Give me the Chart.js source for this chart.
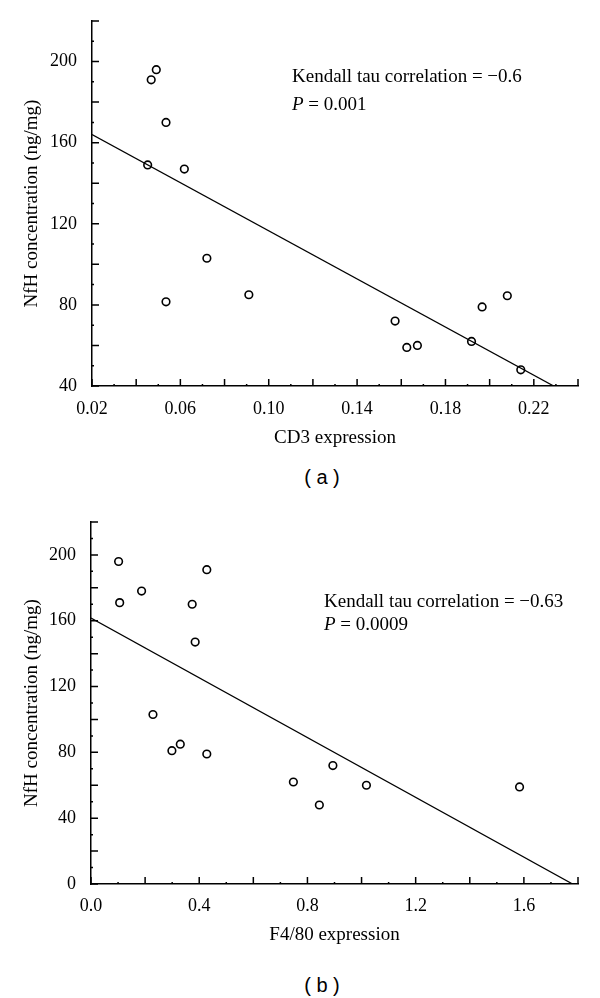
<!DOCTYPE html>
<html>
<head>
<meta charset="utf-8">
<title>NfH vs CD3 / F4/80</title>
<script src="https://cdn.jsdelivr.net/npm/chart.js@4.4.1/dist/chart.umd.min.js"></script>
<style>
    body { margin: 0; background: #fff; width: 600px; height: 998px; position: relative; overflow: hidden; }
    canvas { position: absolute; left: 0; }
    #chartA { top: 0; }
    #chartB { top: 490px; }
    .note { position: absolute; font-family: "Liberation Serif", "Times New Roman", serif; font-size: 19px; line-height: 20px; color: #000; white-space: nowrap; }
    .panel { position: absolute; width: 80px; text-align: center; font-family: "Liberation Sans", Arial, sans-serif; font-size: 20px; line-height: 20px; color: #000; }
</style>
</head>
<body>
<canvas id="chartA" width="600" height="460"></canvas>
<canvas id="chartB" width="600" height="470"></canvas>

<div class="note" style="left:292px; top:66px;">Kendall tau correlation = −0.6</div>
<div class="note" style="left:292px; top:94px;"><i>P</i> = 0.001</div>
<div class="panel" style="left:282px; top:467px;">( a )</div>

<div class="note" style="left:324px; top:591px;">Kendall tau correlation = −0.63</div>
<div class="note" style="left:324px; top:614px;"><i>P</i> = 0.0009</div>
<div class="panel" style="left:282px; top:975px;">( b )</div>

<script>
// panel (a): CD3 expression vs NfH
const cd3X = [0.0468, 0.0491, 0.0535, 0.0452, 0.0618, 0.0720, 0.0535, 0.0910, 0.1572, 0.1625, 0.1673, 0.1918, 0.1966, 0.2080, 0.2141];
const cd3NfH = [191, 196, 170, 149, 147, 103, 81.5, 85, 72, 59, 60, 62, 79, 84.5, 48];
const cd3FitX = [0.02, 0.229];
const cd3FitY = [164, 40];
const cd3TickLabels = [0.02, 0.06, 0.10, 0.14, 0.18, 0.22];
const nfhTickLabelsA = [40, 80, 120, 160, 200];

// panel (b): F4/80 expression vs NfH
const f480X = [0.102, 0.106, 0.187, 0.428, 0.374, 0.385, 0.229, 0.299, 0.330, 0.428, 0.748, 0.894, 0.844, 1.018, 1.584];
const f480NfH = [196, 171, 178, 191, 170, 147, 103, 81, 85, 79, 62, 72, 48, 60, 59];
const f480FitX = [0, 1.78];
const f480FitY = [161.6, 0];
const f480TickLabels = [0.0, 0.4, 0.8, 1.2, 1.6];
const nfhTickLabelsB = [0, 40, 80, 120, 160, 200];

const serif = '"Liberation Serif", "Times New Roman", serif';

// inward tick marks (major + small minor) drawn off the scales
const innerTicks = {
    id: 'innerTicks',
    afterDraw(chart, args, opts) {
        const ctx = chart.ctx;
        const xs = chart.scales.x;
        const ys = chart.scales.y;
        ctx.save();
        ctx.strokeStyle = '#000';
        ctx.lineWidth = 1.5;
        ctx.beginPath();
        for (let i = 0; xs.min + i * opts.xStep / 2 <= xs.max + 1e-9; i++) {
            const px = xs.getPixelForValue(xs.min + i * opts.xStep / 2);
            const len = i % 2 === 0 ? 7 : 2;
            ctx.moveTo(px, ys.bottom);
            ctx.lineTo(px, ys.bottom - len);
        }
        for (let i = 0; ys.min + i * opts.yStep / 2 <= ys.max + 1e-9; i++) {
            const py = ys.getPixelForValue(ys.min + i * opts.yStep / 2);
            const len = i % 2 === 0 ? 7 : 2;
            ctx.moveTo(xs.left, py);
            ctx.lineTo(xs.left + len, py);
        }
        ctx.stroke();
        ctx.restore();
    }
};

function makeChart(canvasId, cfg) {
    const points = cfg.xs.map((x, i) => ({ x: x, y: cfg.ys[i] }));
    const fit = cfg.fitX.map((x, i) => ({ x: x, y: cfg.fitY[i] }));

    return new Chart(document.getElementById(canvasId), {
        type: 'scatter',
        data: {
            datasets: [{
                data: fit,
                showLine: true,
                borderColor: '#000',
                borderWidth: 1.3,
                pointRadius: 0
            }, {
                data: points,
                pointStyle: 'circle',
                pointRadius: 3.8,
                borderColor: '#000',
                borderWidth: 1.6,
                backgroundColor: 'rgba(255,255,255,0)'
            }]
        },
        options: {
            responsive: false,
            animation: false,
            devicePixelRatio: 1,
            layout: { padding: cfg.padding },
            plugins: {
                legend: { display: false },
                tooltip: { enabled: false },
                innerTicks: { xStep: cfg.xStep, yStep: cfg.yStep }
            },
            scales: {
                x: {
                    type: 'linear',
                    min: cfg.xMin,
                    max: cfg.xMax,
                    afterBuildTicks: axis => { axis.ticks = cfg.xLabels.map(v => ({ value: v })); },
                    afterFit: axis => {
                        axis.height = cfg.xHeight;
                        axis.paddingLeft = 0; axis.paddingRight = 0;
                        axis.paddingTop = 0; axis.paddingBottom = 0;
                    },
                    grid: { display: false, drawTicks: false, tickLength: 0 },
                    border: { display: true, color: '#000', width: 1.5 },
                    ticks: {
                        color: '#000',
                        padding: cfg.xTickPad,
                        autoSkip: false,
                        maxRotation: 0,
                        font: { family: serif, size: 18 },
                        callback: v => v.toFixed(cfg.xDigits)
                    },
                    title: {
                        display: true,
                        text: cfg.xTitle,
                        color: '#000',
                        font: { family: serif, size: 19 },
                        padding: { top: 0, bottom: cfg.xTitlePad }
                    }
                },
                y: {
                    type: 'linear',
                    min: cfg.yMin,
                    max: cfg.yMax,
                    afterBuildTicks: axis => { axis.ticks = cfg.yLabels.map(v => ({ value: v })); },
                    afterFit: axis => {
                        axis.width = cfg.yWidth;
                        axis.paddingLeft = 0; axis.paddingRight = 0;
                        axis.paddingTop = 0; axis.paddingBottom = 0;
                    },
                    grid: { display: false, drawTicks: false, tickLength: 0 },
                    border: { display: true, color: '#000', width: 1.5 },
                    ticks: {
                        color: '#000',
                        padding: 15,
                        autoSkip: false,
                        font: { family: serif, size: 18 },
                        callback: v => String(v)
                    },
                    title: {
                        display: true,
                        text: 'NfH concentration (ng/mg)',
                        color: '#000',
                        font: { family: serif, size: 19 },
                        padding: { top: 21, bottom: 0 }
                    }
                }
            }
        },
        plugins: [innerTicks]
    });
}

document.addEventListener('DOMContentLoaded', () => {
    makeChart('chartA', {
        xs: cd3X, ys: cd3NfH, fitX: cd3FitX, fitY: cd3FitY,
        xLabels: cd3TickLabels, yLabels: nfhTickLabelsA,
        xMin: 0.02, xMax: 0.24, yMin: 40, yMax: 220,
        xStep: 0.02, yStep: 20, xDigits: 2,
        xTitle: 'CD3 expression',
        padding: { left: 0, top: 21, right: 22, bottom: 0 },
        yWidth: 92, xHeight: 74, xTickPad: 12, xTitlePad: 11
    });

    makeChart('chartB', {
        xs: f480X, ys: f480NfH, fitX: f480FitX, fitY: f480FitY,
        xLabels: f480TickLabels, yLabels: nfhTickLabelsB,
        xMin: 0, xMax: 1.8, yMin: 0, yMax: 220,
        xStep: 0.2, yStep: 20, xDigits: 1,
        xTitle: 'F4/80 expression',
        padding: { left: 0, top: 32, right: 22, bottom: 0 },
        yWidth: 91, xHeight: 76, xTickPad: 11, xTitlePad: 14
    });
});
</script>
</body>
</html>
